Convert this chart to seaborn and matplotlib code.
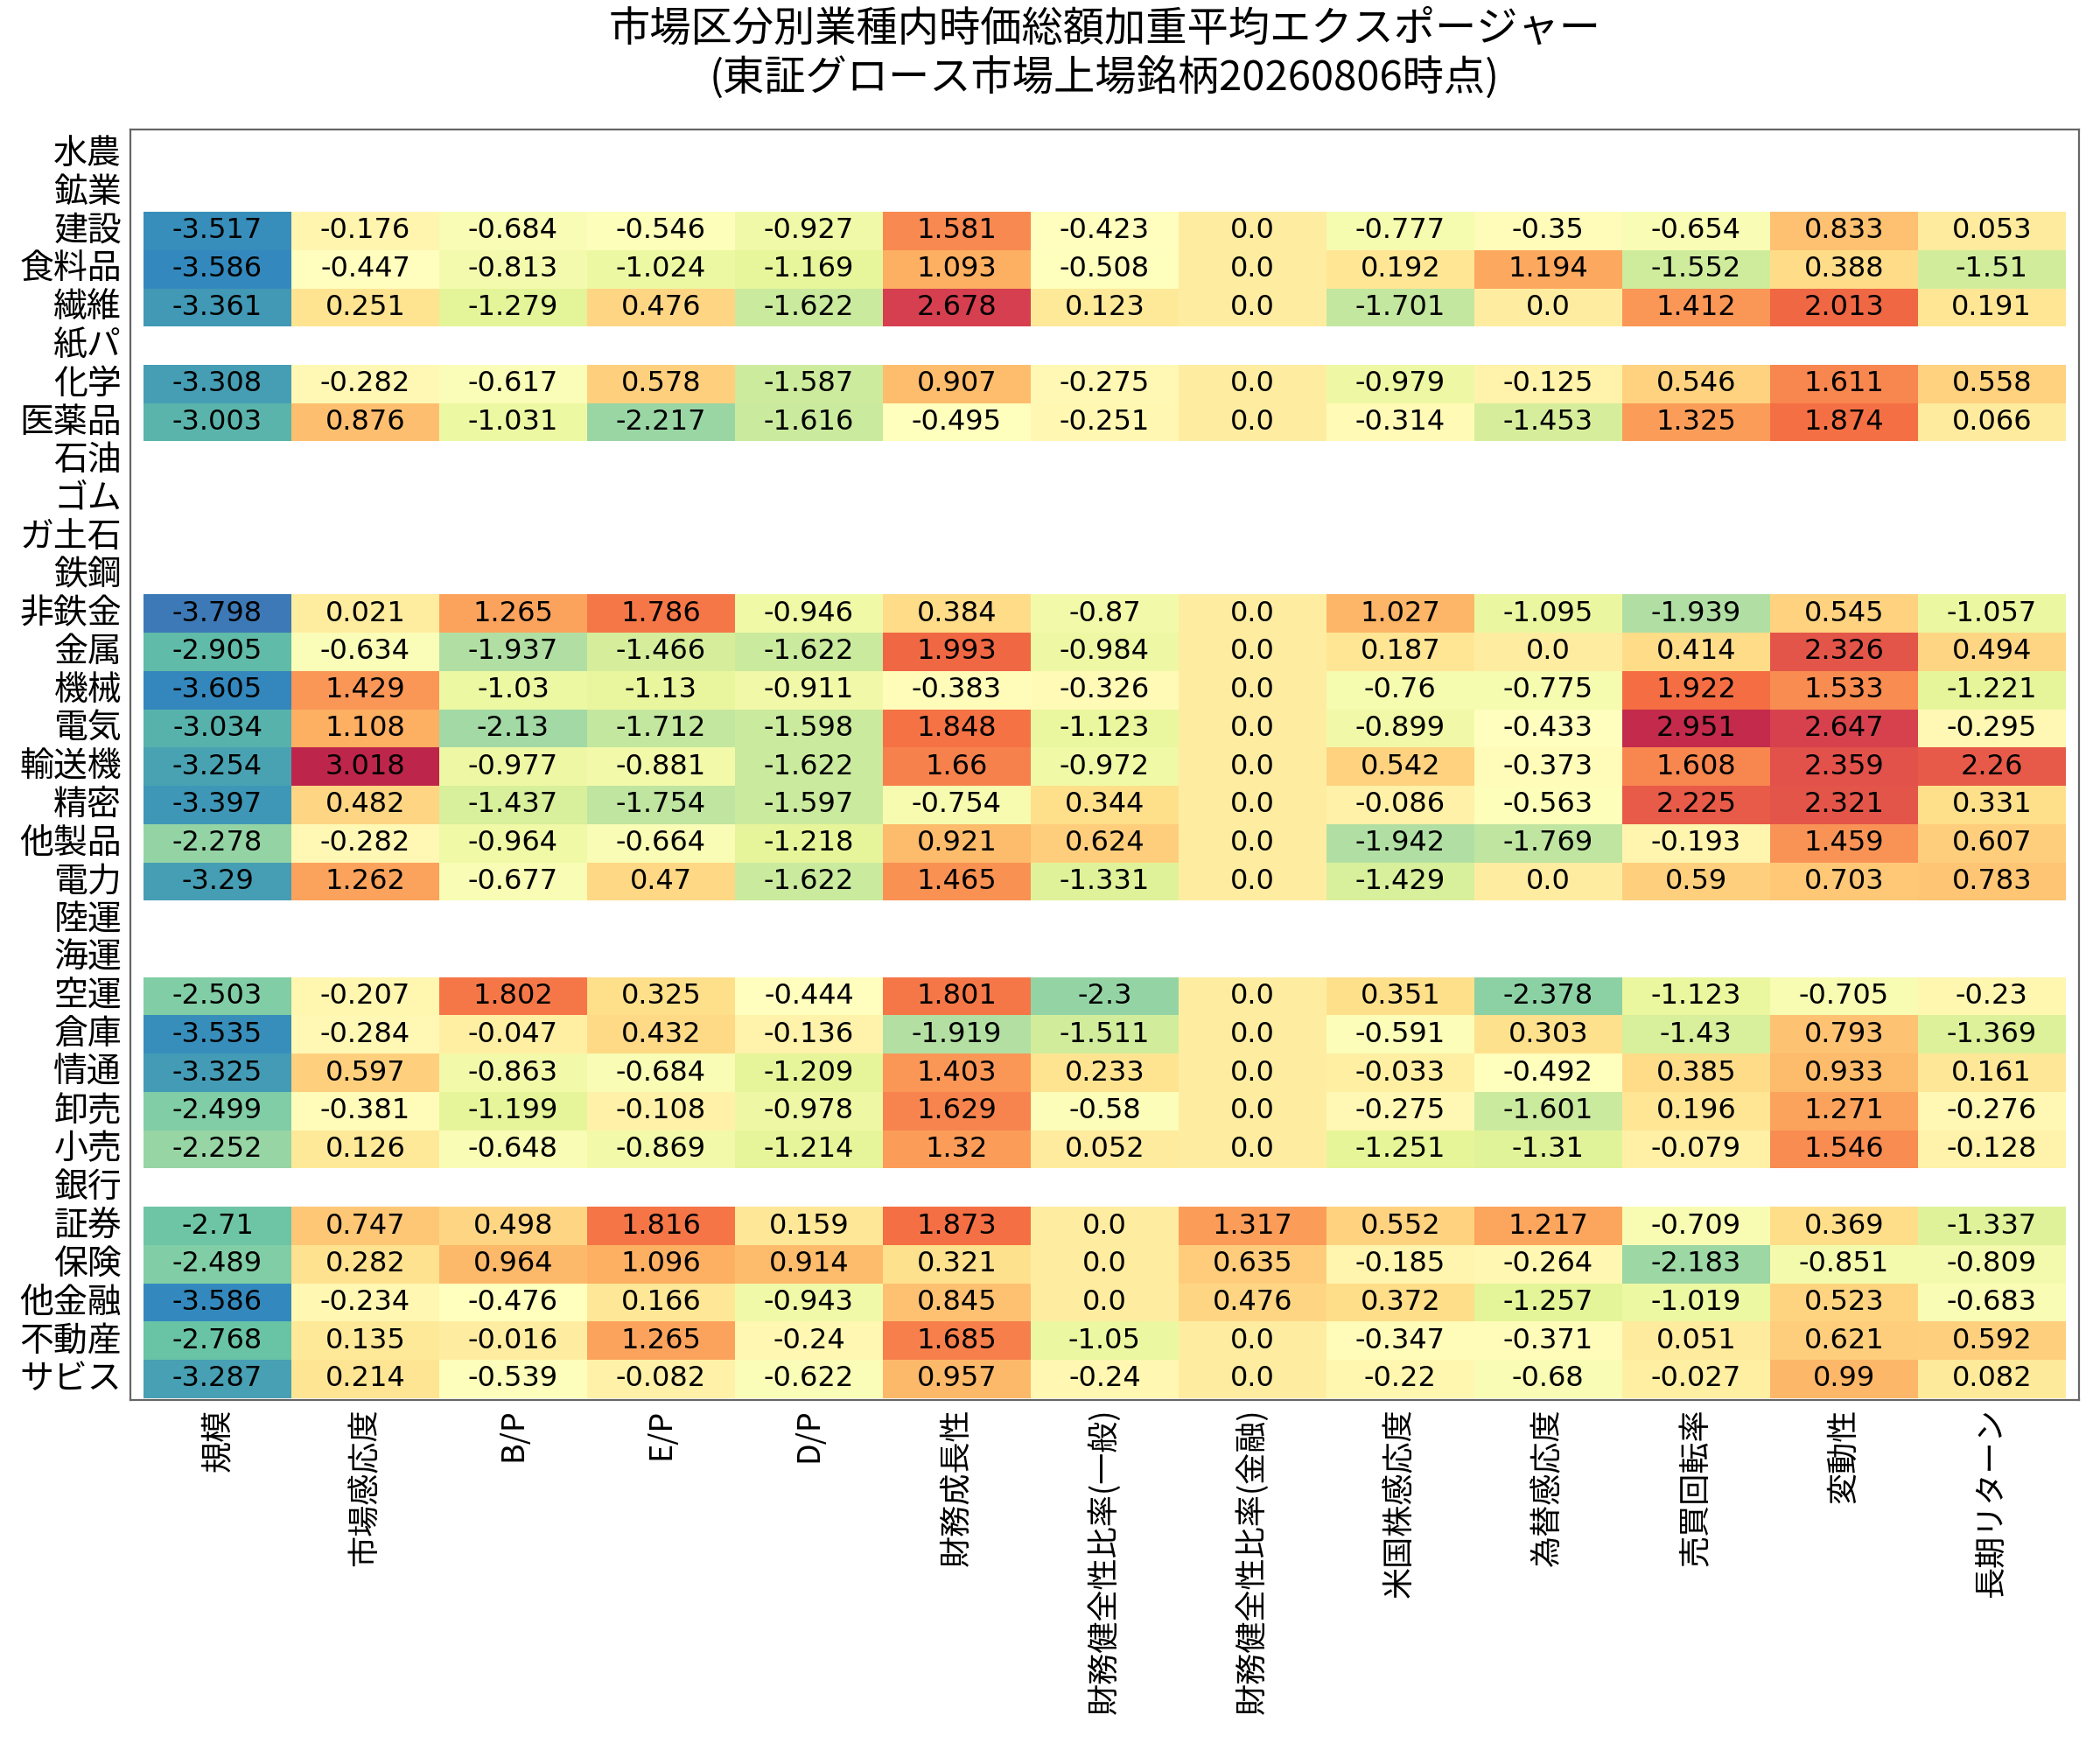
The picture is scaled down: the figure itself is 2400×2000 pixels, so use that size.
import numpy as np
import pandas as pd
import seaborn as sns
import matplotlib.pyplot as plt

industries = ['水農', '鉱業', '建設', '食料品', '繊維', '紙パ', '化学', '医薬品', '石油', 'ゴム',
              'ガ土石', '鉄鋼', '非鉄金', '金属', '機械', '電気', '輸送機', '精密', '他製品', '電力',
              '陸運', '海運', '空運', '倉庫', '情通', '卸売', '小売', '銀行', '証券', '保険',
              '他金融', '不動産', 'サビス']
factors = ['規模', '市場感応度', 'B/P', 'E/P', 'D/P', '財務成長性', '財務健全性比率(一般)',
           '財務健全性比率(金融)', '米国株感応度', '為替感応度', '売買回転率', '変動性', '長期リターン']

N = None
values = [
    [N] * 13,
    [N] * 13,
    [-3.517, -0.176, -0.684, -0.546, -0.927, 1.581, -0.423, 0.0, -0.777, -0.35, -0.654, 0.833, 0.053],
    [-3.586, -0.447, -0.813, -1.024, -1.169, 1.093, -0.508, 0.0, 0.192, 1.194, -1.552, 0.388, -1.51],
    [-3.361, 0.251, -1.279, 0.476, -1.622, 2.678, 0.123, 0.0, -1.701, 0.0, 1.412, 2.013, 0.191],
    [N] * 13,
    [-3.308, -0.282, -0.617, 0.578, -1.587, 0.907, -0.275, 0.0, -0.979, -0.125, 0.546, 1.611, 0.558],
    [-3.003, 0.876, -1.031, -2.217, -1.616, -0.495, -0.251, 0.0, -0.314, -1.453, 1.325, 1.874, 0.066],
    [N] * 13,
    [N] * 13,
    [N] * 13,
    [N] * 13,
    [-3.798, 0.021, 1.265, 1.786, -0.946, 0.384, -0.87, 0.0, 1.027, -1.095, -1.939, 0.545, -1.057],
    [-2.905, -0.634, -1.937, -1.466, -1.622, 1.993, -0.984, 0.0, 0.187, 0.0, 0.414, 2.326, 0.494],
    [-3.605, 1.429, -1.03, -1.13, -0.911, -0.383, -0.326, 0.0, -0.76, -0.775, 1.922, 1.533, -1.221],
    [-3.034, 1.108, -2.13, -1.712, -1.598, 1.848, -1.123, 0.0, -0.899, -0.433, 2.951, 2.647, -0.295],
    [-3.254, 3.018, -0.977, -0.881, -1.622, 1.66, -0.972, 0.0, 0.542, -0.373, 1.608, 2.359, 2.26],
    [-3.397, 0.482, -1.437, -1.754, -1.597, -0.754, 0.344, 0.0, -0.086, -0.563, 2.225, 2.321, 0.331],
    [-2.278, -0.282, -0.964, -0.664, -1.218, 0.921, 0.624, 0.0, -1.942, -1.769, -0.193, 1.459, 0.607],
    [-3.29, 1.262, -0.677, 0.47, -1.622, 1.465, -1.331, 0.0, -1.429, 0.0, 0.59, 0.703, 0.783],
    [N] * 13,
    [N] * 13,
    [-2.503, -0.207, 1.802, 0.325, -0.444, 1.801, -2.3, 0.0, 0.351, -2.378, -1.123, -0.705, -0.23],
    [-3.535, -0.284, -0.047, 0.432, -0.136, -1.919, -1.511, 0.0, -0.591, 0.303, -1.43, 0.793, -1.369],
    [-3.325, 0.597, -0.863, -0.684, -1.209, 1.403, 0.233, 0.0, -0.033, -0.492, 0.385, 0.933, 0.161],
    [-2.499, -0.381, -1.199, -0.108, -0.978, 1.629, -0.58, 0.0, -0.275, -1.601, 0.196, 1.271, -0.276],
    [-2.252, 0.126, -0.648, -0.869, -1.214, 1.32, 0.052, 0.0, -1.251, -1.31, -0.079, 1.546, -0.128],
    [N] * 13,
    [-2.71, 0.747, 0.498, 1.816, 0.159, 1.873, 0.0, 1.317, 0.552, 1.217, -0.709, 0.369, -1.337],
    [-2.489, 0.282, 0.964, 1.096, 0.914, 0.321, 0.0, 0.635, -0.185, -0.264, -2.183, -0.851, -0.809],
    [-3.586, -0.234, -0.476, 0.166, -0.943, 0.845, 0.0, 0.476, 0.372, -1.257, -1.019, 0.523, -0.683],
    [-2.768, 0.135, -0.016, 1.265, -0.24, 1.685, -1.05, 0.0, -0.347, -0.371, 0.051, 0.621, 0.592],
    [-3.287, 0.214, -0.539, -0.082, -0.622, 0.957, -0.24, 0.0, -0.22, -0.68, -0.027, 0.99, 0.082],
]

df = pd.DataFrame([[np.nan if v is None else v for v in row] for row in values],
                  index=industries, columns=factors)
labels = df.map(lambda v: '' if pd.isna(v) else str(v))

plt.rcParams['font.family'] = ['Noto Sans CJK JP', 'DejaVu Sans']

fig, ax = plt.subplots(figsize=(12, 10), dpi=200)
sns.heatmap(df, ax=ax, cmap='Spectral_r', vmin=-4.4, vmax=3.5, cbar=False,
            annot=labels, fmt='', linewidths=0,
            annot_kws={'fontsize': 11.5, 'color': 'black', 'family': ['DejaVu Sans']})
ax.set_xlim(-0.09, 13.09)
ax.set_ylim(33.05, -0.15)
for s in ax.spines.values():
    s.set_visible(True)
    s.set_color('#666666')
ax.tick_params(length=0)
ax.set_xticklabels(factors, rotation=90, fontsize=13)
ax.set_yticklabels(industries, rotation=0, fontsize=14)
ax.set_title('市場区分別業種内時価総額加重平均エクスポージャー\n(東証グロース市場上場銘柄20260806時点)',
             fontsize=17, pad=16, linespacing=1.2)
plt.subplots_adjust(left=0.062, right=0.99, top=0.926, bottom=0.2)
plt.savefig('out.png')
